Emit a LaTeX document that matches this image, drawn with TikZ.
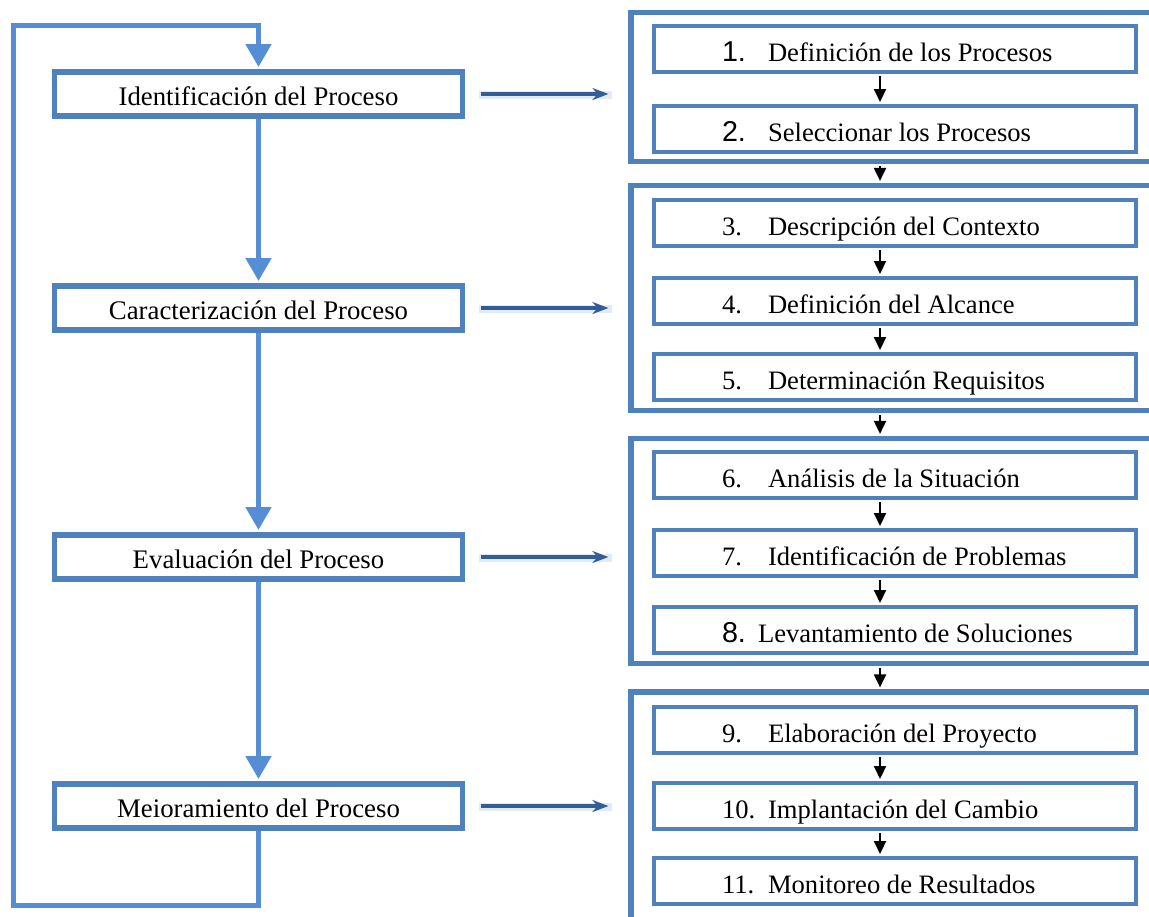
\documentclass[tikz,border=0pt]{standalone}
\usepackage{fontspec}
\setmainfont{Liberation Serif}
\newfontfamily\arialnum{Liberation Sans}[Scale=1.08]
\usetikzlibrary{arrows.meta}
\definecolor{boxblue}{HTML}{4F81BD}
\definecolor{loopblue}{HTML}{558ED5}
\definecolor{feedblue}{HTML}{335D96}
\definecolor{feedshade}{HTML}{E1EAF5}
\newcommand{\nlab}[2]{\makebox[173pt][l]{\makebox[23pt][l]{#1}#2}}

\begin{document}
\begin{tikzpicture}[x=0.5pt,y=-0.5pt,
  stage/.style={draw=boxblue, line width=2.6pt, minimum width=204pt, minimum height=22pt, inner sep=0pt, text height=11.5pt, text depth=0pt, font=\fontsize{13.4}{15}\selectfont},
  group/.style={draw=boxblue, line width=2.6pt, minimum width=274.5pt, inner sep=0pt},
  stepbox/.style={draw=boxblue, line width=2pt, minimum width=241pt, minimum height=23pt, inner sep=0pt, text height=12pt, text depth=0pt, font=\fontsize{13.3}{15}\selectfont},
  flow/.style={draw=loopblue, line width=2.5pt, -{Triangle[width=12.5pt,length=11.5pt]}, shorten >=1.2pt},
  link/.style={draw=black, line width=1pt, -{Triangle[width=6pt,length=6.5pt]}, shorten >=1pt, shorten <=1pt},
  feed/.style={draw=feedblue, line width=1.9pt, -{Stealth[width=6pt,length=8pt]}}]
\useasboundingbox (0,0) rectangle (1149,916);
\clip (0,0) rectangle (1149,916);

% stages of the method
\node[stage] (s1) at (258.5,94) {Identificación del Proceso};
\node[stage] (s2) at (258.5,308) {Caracterización del Proceso};
\node[stage] (s3) at (258.5,557) {Evaluación del Proceso};
\node[stage] (s4) at (258.5,806) {Meioramiento del Proceso};

% group frames (open to the right)
\node[group, minimum height=74.5pt] (g1) at (905.5,87) {};
\node[group, minimum height=112.5pt] (g2) at (905.5,298) {};
\node[group, minimum height=112.5pt] (g3) at (905.5,551) {};
\node[group, minimum height=134pt] (g4) at (905.5,826) {};

% steps
\foreach \n/\y/\num/\t in {1/49/{\arialnum 1.}/Definición de los Procesos,
  2/129/{\arialnum 2.}/Seleccionar los Procesos,
  3/223/3./Descripción del Contexto,
  4/301/4./Definición del Alcance,
  5/377/5./Determinación Requisitos,
  6/475/6./Análisis de la Situación,
  7/553/7./Identificación de Problemas,
  8/630/{\arialnum 8.}/{\hspace{-5pt}Levantamiento de Soluciones},
  9/730/9./Elaboración del Proyecto,
  10/806/10./Implantación del Cambio,
  11/881/11./Monitoreo de Resultados}
  \node[stepbox] (b\n) at (895,\y) {\nlab{\num}{\t}};

\coordinate (ax) at (880,0);
\foreach \a/\b in {b1/b2, g1/g2, b3/b4, b4/b5, g2/g3, b6/b7, b7/b8, g3/g4, b9/b10, b10/b11}
  \draw[link] (\a.south -| ax) -- (\b.north -| ax);

% main flow and feedback loop
\foreach \a/\b in {s1/s2, s2/s3, s3/s4}
  \draw[flow] (\a) -- (\b);
\coordinate (lb) at (13,905);
\coordinate (lt) at (13,25);
\draw[flow, line join=miter] (s4.south) |- (lb) -- (lt) -| (s1.north);

% links to the groups
\foreach \i in {1,...,4}{
  \draw[feedshade, line width=4pt, shorten >=8pt] ([xshift=7pt,yshift=-0.6pt]s\i.east) -- ([yshift=-0.6pt]g\i.west |- s\i.east);
  \draw[feed, shorten >=10pt] ([xshift=7.75pt]s\i.east) -- (g\i.west |- s\i.east);
}
\end{tikzpicture}
\end{document}
